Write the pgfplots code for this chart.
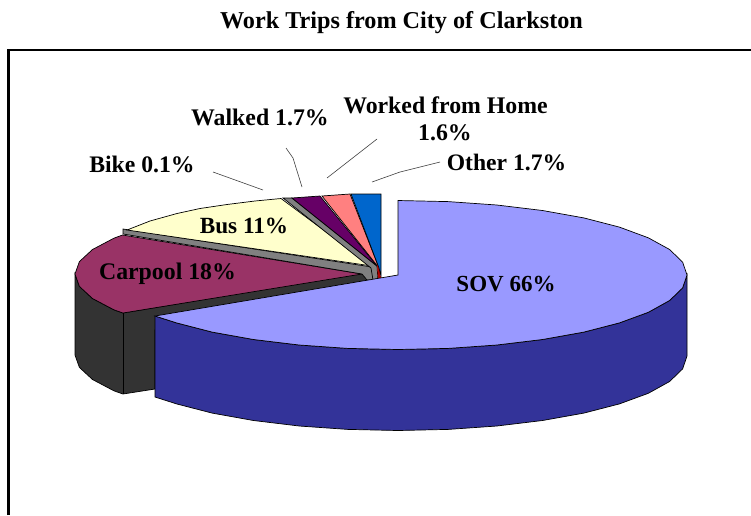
\documentclass[border=0pt]{standalone}
\usepackage{fontspec}
\setmainfont{Liberation Serif}
\usepackage{pgfplots}
\pgfplotsset{compat=1.18}
\definecolor{sov}{RGB}{153,153,255}
\definecolor{sovd}{RGB}{51,51,153}
\definecolor{car}{RGB}{153,51,102}
\definecolor{card}{RGB}{51,51,51}
\definecolor{bus}{RGB}{255,255,204}
\definecolor{bikeg}{RGB}{128,128,128}
\definecolor{walk}{RGB}{102,0,102}
\definecolor{home}{RGB}{255,128,128}
\definecolor{other}{RGB}{0,102,204}
\begin{document}
\begin{tikzpicture}
\begin{axis}[scale only axis,width=751pt,height=515pt,xmin=0,xmax=751,ymin=0,ymax=515,y dir=reverse,hide axis,clip=true]
% page extent
\addplot[draw=none] coordinates {(0,0) (751,515)};
% frame
\addplot[draw=black,line width=2.4pt] coordinates {(8.5,515) (8.5,50) (751,50)};
% dark wall of carpool
\addplot[fill=card,draw=black,line width=0.7pt] coordinates {(123,313) (367,272) (367,285) (155,330) (155,389) (123,394) (113.9,390.8) (92.5,379.5) (79.4,367.4) (75,355) (75,274) (79.4,286.4) (92.5,298.5) (113.9,309.8) (123,313)} -- cycle;
\addplot[draw=black,line width=0.7pt] coordinates {(123,313) (123,394)};
% carpool top
\addplot[fill=car,draw=black,line width=0.7pt] coordinates {(122.5,235) (113.9,238.2) (92.5,249.5) (79.4,261.6) (75,274) (79.4,286.4) (92.5,298.5) (113.9,309.8) (123,313) (362,274)} -- cycle;
% bus wall
\addplot[fill=bikeg,draw=black,line width=0.7pt] coordinates {(123,229) (372,267) (375,280) (367,280) (362,274) (123,234)} -- cycle;
% bus top
\addplot[fill=bus,draw=black,line width=0.7pt] coordinates {(127,230) (150,221) (177,213.5) (200,208.5) (227,204.5) (255,201) (281,198.5) (372,266)} -- cycle;
% bike
\addplot[fill=bikeg,draw=black,line width=0.7pt] coordinates {(283,198) (292,198) (377,266) (378,280) (373,280) (371,268)} -- cycle;
% walked
\addplot[fill=walk,draw=black,line width=0.7pt] coordinates {(292,198) (306,197) (320,196) (377,266)} -- cycle;
% home
\addplot[fill=home,draw=black,line width=0.7pt] coordinates {(322,196) (336,195) (350,194) (379,268)} -- cycle;
% red apex sliver
\addplot[fill=red!70!black,draw=none] coordinates {(377,264) (380,268) (381,279) (378,279)} -- cycle;
% other
\addplot[fill=other,draw=black,line width=0.7pt] coordinates {(351,194) (381,194) (381,276) (379,268)} -- cycle;
% SOV wall
\addplot[fill=sovd,draw=black,line width=0.7pt] coordinates {(687,275) (682.6,287.9) (669.6,300.5) (648.3,312.3) (619.4,322.9) (583.8,332.1) (542.5,339.5) (496.8,345) (448.2,348.4) (398,349.5) (347.8,348.4) (299.2,345) (253.5,339.5) (212.2,332.1) (176.6,322.9) (155,316) (155,397) (176.6,403.9) (212.2,413.1) (253.5,420.5) (299.2,426) (347.8,429.4) (398,430.5) (448.2,429.4) (496.8,426) (542.5,420.5) (583.8,413.1) (619.4,403.9) (648.3,393.3) (669.6,381.5) (682.6,368.9) (687,356)} -- cycle;
% SOV top
\addplot[fill=sov,draw=black,line width=0.7pt] coordinates {(398,275) (398,200.5) (448.2,201.6) (496.8,205) (542.5,210.5) (583.8,217.9) (619.4,227.1) (648.3,237.8) (669.6,249.5) (682.6,262.1) (687,275) (682.6,287.9) (669.6,300.5) (648.3,312.3) (619.4,322.9) (583.8,332.1) (542.5,339.5) (496.8,345) (448.2,348.4) (398,349.5) (347.8,348.4) (299.2,345) (253.5,339.5) (212.2,332.1) (176.6,322.9) (155,316)} -- cycle;
% leaders
\addplot[draw=black!75,line width=0.6pt] coordinates {(213,172) (263,190)};
\addplot[draw=black!75,line width=0.6pt] coordinates {(286,148) (293,158) (302,187)};
\addplot[draw=black!75,line width=0.6pt] coordinates {(377,139) (327,178)};
\addplot[draw=black!75,line width=0.6pt] coordinates {(372,182) (400,172) (440,162)};
% text
\node[font=\fontsize{24.2}{26}\selectfont\bfseries] at (axis cs:401.5,23) {Work Trips from City of Clarkston};
\node[font=\fontsize{23.8}{26}\selectfont\bfseries] at (axis cs:445.5,105) {Worked from Home};
\node[font=\fontsize{23.8}{26}\selectfont\bfseries] at (axis cs:445,133) {1.6\%};
\node[font=\fontsize{23.6}{26}\selectfont\bfseries] at (axis cs:506.5,162) {Other 1.7\%};
\node[font=\fontsize{23.8}{26}\selectfont\bfseries] at (axis cs:260,117) {Walked 1.7\%};
\node[font=\fontsize{23.7}{26}\selectfont\bfseries] at (axis cs:142,164) {Bike 0.1\%};
\node[font=\fontsize{23.2}{26}\selectfont\bfseries] at (axis cs:244,226) {Bus 11\%};
\node[font=\fontsize{23.8}{26}\selectfont\bfseries] at (axis cs:167.5,274) {Carpool 18\%};
\node[font=\fontsize{23}{25}\selectfont\bfseries] at (axis cs:506,284) {SOV 66\%};
\end{axis}
\end{tikzpicture}
\end{document}
